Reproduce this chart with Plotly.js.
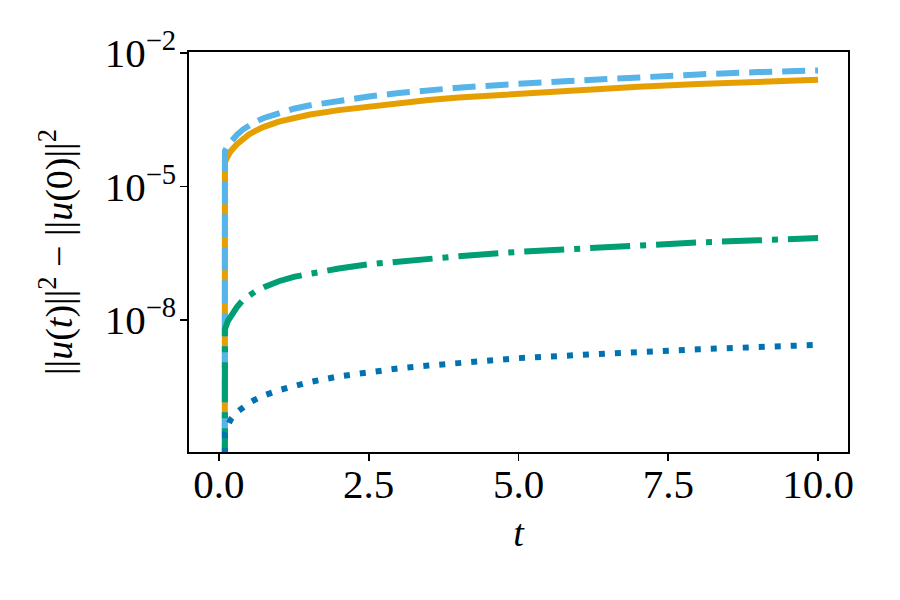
<!DOCTYPE html>
<html>
<head>
<meta charset="utf-8">
<script src="https://cdn.plot.ly/plotly-3.0.1.min.js"></script>
<style>
  html, body { margin: 0; padding: 0; background: #ffffff; }
  #chart { width: 900px; height: 600px; }
</style>
</head>
<body>
<div id="chart"></div>
<script>
// Time samples
const t = [0, 0.1, 0.15, 0.2, 0.3, 0.4, 0.5, 0.6, 0.75, 1, 1.25, 1.5, 2, 2.5, 3, 3.5, 4, 5, 6, 7, 8, 9, 10];

// Energy drift ||u(t)||^2 - ||u(0)||^2 for four runs (zero at t = 0)
const driftOrange = [0, 3.5e-5, 4.9e-5, 6.3e-5, 8.9e-5, 1.18e-4, 1.48e-4, 1.75e-4, 2.19e-4, 2.88e-4,
  3.55e-4, 4.1e-4, 5.2e-4, 6.31e-4, 7.59e-4, 8.8e-4, 1.0e-3, 1.23e-3, 1.48e-3, 1.74e-3, 2.0e-3, 2.24e-3, 2.51e-3];
const driftSky = [0, 6.3e-5, 8.4e-5, 1.05e-4, 1.45e-4, 1.9e-4, 2.34e-4, 2.8e-4, 3.47e-4, 4.57e-4,
  5.6e-4, 6.6e-4, 8.6e-4, 1.05e-3, 1.26e-3, 1.46e-3, 1.66e-3, 2.04e-3, 2.45e-3, 2.88e-3, 3.31e-3, 3.72e-3, 4.07e-3];
const driftGreen = [0, 6.3e-9, 9.5e-9, 1.26e-8, 1.95e-8, 2.8e-8, 3.5e-8, 4.3e-8, 5.4e-8, 7.4e-8,
  9.3e-8, 1.1e-7, 1.43e-7, 1.78e-7, 2.09e-7, 2.4e-7, 2.69e-7, 3.39e-7, 4.07e-7, 4.9e-7, 5.5e-7, 6.17e-7, 6.92e-7];
const driftBlue = [0, 2.82e-11, 4.3e-11, 5.89e-11, 8.4e-11, 1.1e-10, 1.35e-10, 1.6e-10, 2.0e-10, 2.63e-10,
  3.3e-10, 3.98e-10, 5.37e-10, 6.76e-10, 8.13e-10, 9.4e-10, 1.07e-9, 1.38e-9, 1.62e-9, 1.91e-9, 2.19e-9, 2.45e-9, 2.75e-9];

// Tick labels
const yTickVals = [1e-2, 1e-5, 1e-8];
const yTickText = ['10<sup>\u22122</sup>', '10<sup>\u22125</sup>', '10<sup>\u22128</sup>'];
const xTickVals = [0, 2.5, 5, 7.5, 10];
const xTickText = ['0.0', '2.5', '5.0', '7.5', '10.0'];

// Non-positive values cannot sit on a log axis: clip them far below the view
// so the line drops straight out of the bottom of the plot.
const clipLog = arr => arr.map(v => (v > 0 ? v : 1e-300));

const W = 6;
const traces = [
  { y: driftOrange, color: '#E69F00', dash: 'solid' },
  { y: driftSky, color: '#56B4E9', dash: '23px,10px' },
  { y: driftGreen, color: '#009E73', dash: '40px,10px,6px,10px' },
  { y: driftBlue, color: '#0072B2', dash: '6px,10px' }
].map(s => ({
  x: t,
  y: clipLog(s.y),
  type: 'scatter',
  mode: 'lines',
  line: { color: s.color, width: W, dash: s.dash },
  hoverinfo: 'skip',
  showlegend: false
}));

const family = '"Liberation Serif", "DejaVu Serif", serif';
const tickFont = { family: family, size: 41, color: '#000000' };
const titleFont = { family: family, size: 38, color: '#000000' };

const layout = {
  width: 900,
  height: 600,
  paper_bgcolor: '#ffffff',
  plot_bgcolor: '#ffffff',
  margin: { l: 189, r: 52, t: 52, b: 148, pad: 0 },
  font: tickFont,
  showlegend: false,
  xaxis: {
    range: [-0.5, 10.5],
    tickvals: xTickVals,
    ticktext: xTickText,
    ticks: 'outside',
    ticklen: 7,
    tickwidth: 1.6,
    tickcolor: '#000000',
    ticklabelstandoff: -12,
    showline: true,
    linecolor: '#000000',
    linewidth: 1.6,
    mirror: true,
    showgrid: false,
    zeroline: false,
    tickfont: tickFont,
    title: { text: '<i>t</i>', font: titleFont, standoff: 13 },
    automargin: false
  },
  yaxis: {
    type: 'log',
    range: [-10.97, -1.977],
    tickvals: yTickVals,
    ticktext: yTickText,
    ticks: 'outside',
    ticklen: 7,
    tickwidth: 1.6,
    tickcolor: '#000000',
    ticklabelstandoff: -4,
    showline: true,
    linecolor: '#000000',
    linewidth: 1.6,
    mirror: true,
    showgrid: false,
    zeroline: false,
    tickfont: tickFont,
    title: {
      text: '||<i>u</i>(<i>t</i>)||<sup>2</sup> \u2212 ||<i>u</i>(0)||<sup>2</sup>',
      font: titleFont,
      standoff: 20
    },
    automargin: false
  }
};

Plotly.newPlot('chart', traces, layout, { staticPlot: true, displayModeBar: false });
</script>
</body>
</html>
